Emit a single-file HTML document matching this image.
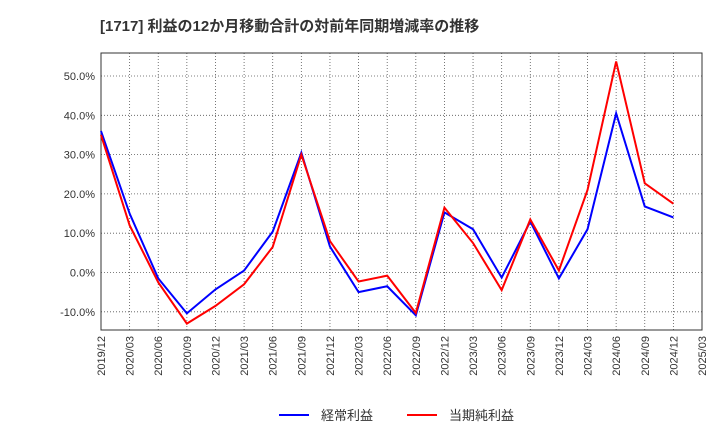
<!DOCTYPE html>
<html><head><meta charset="utf-8"><style>
body{margin:0;background:#fff;font-family:"Liberation Sans","Noto Sans CJK JP",sans-serif;}
</style></head><body>
<svg id="chart" width="720" height="440" xmlns="http://www.w3.org/2000/svg">
<text x="100" y="31" font-size="15" font-weight="bold" fill="#333" font-family="Liberation Sans, Noto Sans CJK JP, sans-serif">[1717]  利益の12か月移動合計の対前年同期増減率の推移</text>
<g id="grid"></g><g id="axes"></g><g id="series"></g>
<g>
<line x1="279" y1="415" x2="309" y2="415" stroke="#0000ff" stroke-width="2"/>
<text x="321" y="420" font-size="13" fill="#333">経常利益</text>
<line x1="407" y1="415" x2="437" y2="415" stroke="#ff0000" stroke-width="2"/>
<text x="449" y="420" font-size="13" fill="#333">当期純利益</text>
</g>
</svg>
<script>
const categories=["2019/12","2020/03","2020/06","2020/09","2020/12","2021/03","2021/06","2021/09","2021/12","2022/03","2022/06","2022/09","2022/12","2023/03","2023/06","2023/09","2023/12","2024/03","2024/06","2024/09","2024/12","2025/03"];
const ordinaryProfit=[36,15,-1.5,-10.4,-4.3,0.5,10.4,30.5,6.6,-5,-3.5,-10.9,15.3,11,-1.3,13,-1.5,11,40.5,16.8,14];
const netProfit=[35,12,-2.5,-13,-8.5,-3,6.5,30,8,-2.3,-0.8,-10.3,16.5,7.5,-4.5,13.5,0.5,21,53.7,22.7,17.5];
const yTicks=[-10,0,10,20,30,40,50];
const L=101,R=702,T=53,B=330;
const NS="http://www.w3.org/2000/svg";
function x(i){return L+(R-L)*i/(categories.length-1);}
function y(v){return 272.5-v*3.93;}
function mk(tag,attrs,parent){const e=document.createElementNS(NS,tag);for(const k in attrs)e.setAttribute(k,attrs[k]);parent.appendChild(e);return e;}
const grid=document.getElementById('grid'),axes=document.getElementById('axes'),series=document.getElementById('series');
categories.forEach((c,i)=>{
  const g=mk('line',{x1:x(i),x2:x(i),y1:T,y2:B,stroke:'#555','stroke-dasharray':'1,2','stroke-width':0.8},grid);
  
  
  const t=mk('text',{transform:`translate(${x(i)+4},${B+6}) rotate(-90)`,'text-anchor':'end','font-size':11,fill:'#333'},axes);
  t.textContent=c;
  
  
});
yTicks.forEach(v=>{
  const g=mk('line',{x1:L,x2:R,y1:y(v),y2:y(v),stroke:'#555','stroke-dasharray':'1,2','stroke-width':0.8},grid);
  
  
  const t=mk('text',{x:L-6,y:y(v)+4,'text-anchor':'end','font-size':11,fill:'#333'},axes);
  t.textContent=v.toFixed(1)+'%';
  
  
});
const fr=mk('rect',{x:L,y:T,width:R-L,height:B-T,fill:'none',stroke:'#333','stroke-width':1},axes);


function line(vals,color,name){
  const p=mk('polyline',{points:vals.map((v,i)=>x(i)+','+y(v)).join(' '),fill:'none',stroke:color,'stroke-width':2},series);
  
  
}
line(ordinaryProfit,'#0000ff','ordinary-profit-line');
line(netProfit,'#ff0000','net-profit-line');
</script>
</body></html>
